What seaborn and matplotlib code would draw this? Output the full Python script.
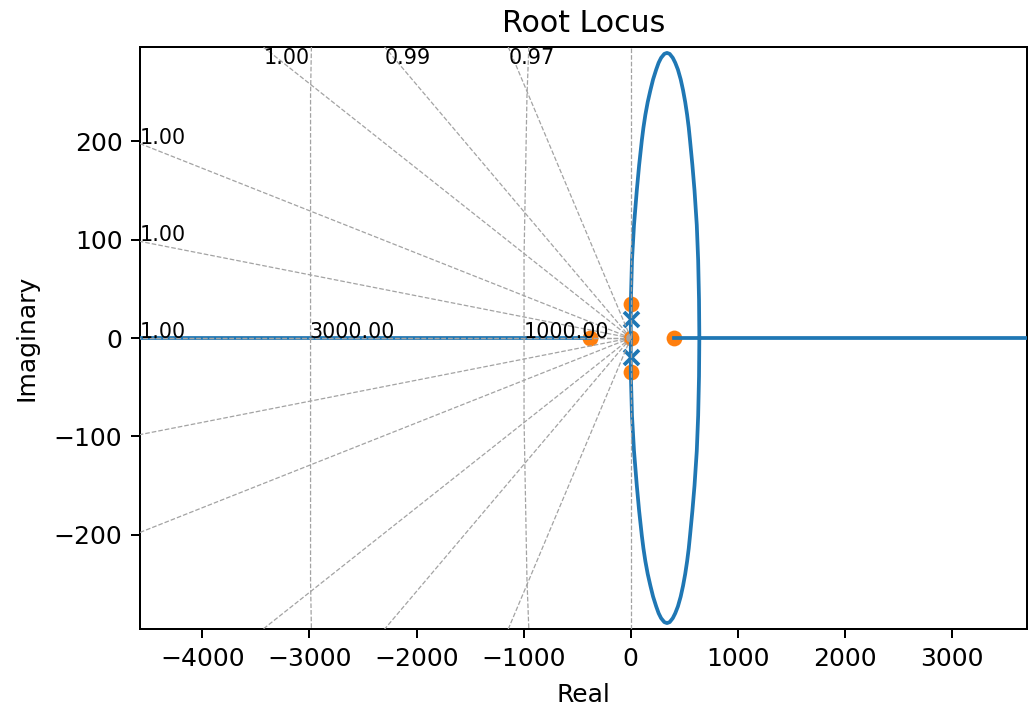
import numpy as np
import matplotlib
matplotlib.use("Agg")
import matplotlib.pyplot as plt
import seaborn as sns
import pandas as pd

# Open-loop poles and zeros (real, imaginary)
pole_re = [0.0, 0.0]
pole_im = [19.0, -19.0]
zero_re = [-379.0, 0.0, 0.0, 0.0, 405.0]
zero_im = [0.0, 35.0, 0.0, -35.0, 0.0]

# Complex locus branch in the upper half plane (the lower one is its conjugate)
loop_re = [0, 0, 0, 1, 11, 30, 56, 78, 103, 118, 136, 158, 183, 208, 237, 260,
           283, 313, 338, 363, 392, 415, 440, 466, 488, 508, 526, 541, 553,
           575, 595, 616, 629, 637, 640]
loop_im = [0, 19, 35, 39, 79, 115, 150, 176, 201, 214, 227, 240, 252, 263, 273, 280,
           285, 289, 290, 289, 285, 280, 273, 263, 252, 240, 227, 214, 201,
           176, 150, 115, 79, 39, 0]

# Real-axis branches heading off to infinity
left_re = [-5000.0, -379.0]
right_re = [405.0, 4000.0]

# Axis extents
x_limits = (-4582, 3699)
y_limits = (-296, 296)

# Damping ratios and natural frequencies of the s-plane grid
zetas = [0.9681, 0.9918, 0.9963, 0.99907, 0.99977, 1.0]
wns = [-3000, -1000]

DPI = 180
fig = plt.figure(figsize=(1028 / DPI, 713 / DPI), dpi=DPI)
ax = fig.add_axes([140 / 1028, 1 - 629 / 713, (1027 - 140) / 1028, (629 - 47) / 713])

blue = "#1f77b4"
orange = "#ff7f0e"

# Poles (x) then zeros (o)
sns.scatterplot(x=pole_re, y=pole_im, marker="x", s=36, color=blue,
                linewidth=1.5, ax=ax, zorder=2)
sns.scatterplot(x=zero_re, y=zero_im, marker="o", s=40, color=orange,
                edgecolor=orange, linewidth=0, ax=ax, zorder=2)

# Root locus branches
upper = pd.DataFrame({"re": loop_re, "im": loop_im})
lower = pd.DataFrame({"re": loop_re, "im": [-v for v in loop_im]})
for df in (upper, lower):
    sns.lineplot(data=df, x="re", y="im", sort=False, estimator=None,
                 color=blue, linewidth=1.5, ax=ax, zorder=3)
for seg in (left_re, right_re):
    sns.lineplot(x=seg, y=[0.0, 0.0], sort=False, estimator=None,
                 color=blue, linewidth=1.5, ax=ax, zorder=3)

ax.set_xlim(*x_limits)
ax.set_ylim(*y_limits)

# s-plane grid: constant-damping rays and constant-frequency arcs
xloc = ax.xaxis.get_major_locator()()
ylim = ax.get_ylim()
xlim = ax.get_xlim()
ytext_lim = ylim[1] - (ylim[1] - ylim[0]) * 0.03
xtext_lim = xlim[0]
grid_kw = dict(color="#a3a3a3", linestyle="dashed", linewidth=0.5, zorder=4)
label_kw = dict(textcoords="data", fontsize=8.3, zorder=5)

for z in zetas:
    yp = np.tan(np.pi / 2 + np.arcsin(z))
    ax.plot([0, xloc[0]], [0, yp * xloc[0]], **grid_kw)
    ax.plot([0, xloc[0]], [0, -yp * xloc[0]], **grid_kw)
    if yp < 0:
        xt = ylim[1] / yp
        yt = yp * xtext_lim
        if abs(xt) > abs(xtext_lim):
            xt = xtext_lim
        else:
            yt = ytext_lim
        ax.annotate("%.2f" % z, xy=(xt, yt), **label_kw)

ax.plot([0, 0], [ylim[0], ylim[1]], **grid_kw)

arc = np.deg2rad(np.linspace(-90, 90, 20))
for om in wns:
    ax.plot(-np.cos(arc) * abs(om), np.sin(arc) * abs(om), **grid_kw)
    ax.annotate("%.2f" % -om, xy=(om, 0), **label_kw)

ax.set_xlim(*x_limits)
ax.set_ylim(*y_limits)
ax.set_title("Root Locus")
ax.set_xlabel("Real", labelpad=5)
ax.set_ylabel("Imaginary", labelpad=6)

fig.savefig("out.png", dpi=DPI)
